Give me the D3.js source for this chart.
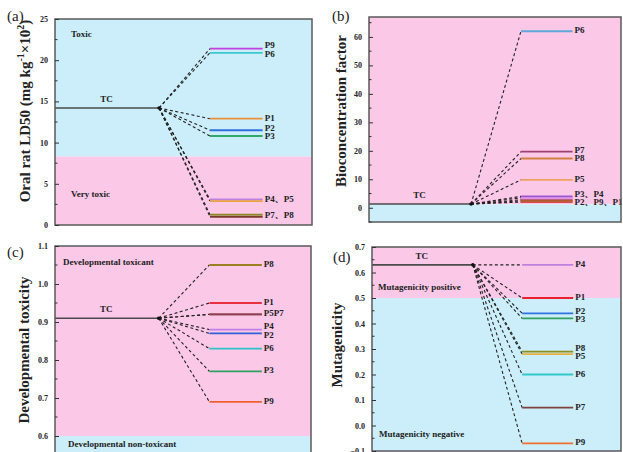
<!DOCTYPE html>
<html>
<head>
<meta charset="utf-8">
<script src="https://cdn.jsdelivr.net/npm/d3@7"></script>
<style>
  body { margin: 0; background: #fff; }
  svg { display: block; }
  text { font-family: "Liberation Serif", "Times New Roman", "Noto Serif CJK SC", "Noto Sans CJK SC", serif; font-weight: bold; fill: #222; }
</style>
</head>
<body>
<svg id="chart" width="623" height="452"></svg>
<script>
// ---- data ----
const products = ["P1", "P2", "P3", "P4", "P5", "P6", "P7", "P8", "P9"];

// (a) oral rat LD50, mg/kg x 10^2
const ld50Tc = 14.2;
const ld50Values = [12.9, 11.5, 10.8, 3.1, 2.9, 20.9, 1.0, 1.25, 21.4];
const ld50Threshold = 8.3;
const ld50Ticks = [0, 5, 10, 15, 20, 25];
const ld50Labels = [["P9"], ["P6"], ["P1"], ["P2"], ["P3"], ["P4", "P5"], ["P7", "P8"]];

// (b) bioconcentration factor
const bcfTc = 1.3;
const bcfValues = [2.0, 2.8, 4.0, 3.5, 9.8, 62.0, 19.7, 17.3, 2.4];
const bcfThreshold = 1.2;
const bcfTicks = [0, 10, 20, 30, 40, 50, 60];
const bcfLabels = [["P6"], ["P7"], ["P8"], ["P5"], ["P3", "P4"], ["P2", "P9", "P1"]];

// (c) developmental toxicity
const devTc = 0.91;
const devValues = [0.95, 0.87, 0.77, 0.88, 0.92, 0.83, 0.92, 1.05, 0.69];
const devThreshold = 0.6;
const devTicks = [0.6, 0.7, 0.8, 0.9, 1.0, 1.1];
const devLabels = [["P8"], ["P1"], ["P5", "P7"], ["P4"], ["P2"], ["P6"], ["P3"], ["P9"]];

// (d) mutagenicity
const mutTc = 0.63;
const mutValues = [0.50, 0.44, 0.42, 0.63, 0.28, 0.20, 0.07, 0.29, -0.07];
const mutThreshold = 0.5;
const mutTicks = [-0.1, 0.0, 0.1, 0.2, 0.3, 0.4, 0.5, 0.6, 0.7];
const mutLabels = [["P4"], ["P1"], ["P2"], ["P3"], ["P8"], ["P5"], ["P6"], ["P7"], ["P9"]];

// ---- styling ----
const BLUE = "#cbeefa";
const PINK = "#fbc8e8";
const colorsA = ["#e8903a", "#2f6fe0", "#2fa86a", "#c080e0", "#e8a040", "#3cc8d0", "#7a3a2a", "#8a8a20", "#c040e0"];
const colorsB = ["#d84848", "#c06080", "#9a58d0", "#d488e8", "#f0a060", "#60a8d8", "#a04070", "#d08040", "#b05a30"];
const colorsC = ["#e83040", "#3060d8", "#30a060", "#c080e8", "#904050", "#30c0c8", "#904050", "#9a8020", "#f06030"];
const colorsD = ["#e82030", "#3070e0", "#30a060", "#c080e0", "#e8b040", "#30c8c8", "#804040", "#8a9020", "#f07030"];

const svg = d3.select("#chart");

const panels = [
  {
    letter: "(a)", letterX: 7, letterY: 21,
    x0: 55, x1: 312, y0: 19, y1: 225,
    domain: [0, 25], ticks: ld50Ticks, minor: 2.5, fmt: d3.format("d"),
    tc: ld50Tc, values: ld50Values, threshold: ld50Threshold, above: BLUE, below: PINK,
    labels: ld50Labels, sep: "、", colors: colorsA,
    titleX: 27, titleY: 111, title: "ld50",
    regions: [{ text: "Toxic", x: 71, y: 35 }, { text: "Very toxic", x: 71, y: 195 }]
  },
  {
    letter: "(b)", letterX: 332, letterY: 21,
    x0: 369, x1: 621, y0: 17, y1: 222,
    domain: [-5, 67], ticks: bcfTicks, minor: 5, fmt: d3.format("d"),
    tc: bcfTc, values: bcfValues, threshold: bcfThreshold, above: PINK, below: BLUE,
    labels: bcfLabels, sep: "、", colors: colorsB,
    titleX: 343, titleY: 111, title: "Bioconcentration factor",
    regions: []
  },
  {
    letter: "(c)", letterX: 7, letterY: 257,
    x0: 55, x1: 311, y0: 246, y1: 455,
    domain: [0.55, 1.1], ticks: devTicks, minor: 0.05, fmt: d3.format(".1f"),
    tc: devTc, values: devValues, threshold: devThreshold, above: PINK, below: BLUE,
    labels: devLabels, sep: "", colors: colorsC,
    titleX: 26, titleY: 350, title: "Developmental toxicity",
    regions: [{ text: "Developmental toxicant", x: 63, y: 263 }, { text: "Developmental non-toxicant", x: 68, y: 445 }]
  },
  {
    letter: "(d)", letterX: 333, letterY: 262,
    x0: 372, x1: 621, y0: 247, y1: 451,
    domain: [-0.1, 0.7], ticks: mutTicks, minor: 0.05, fmt: d3.format(".1f"),
    tc: mutTc, values: mutValues, threshold: mutThreshold, above: PINK, below: BLUE,
    labels: mutLabels, sep: "", colors: colorsD,
    titleX: 339, titleY: 345, title: "Mutagenicity",
    regions: [{ text: "Mutagenicity positive", x: 378, y: 288 }, { text: "Mutagenicity negative", x: 379, y: 435 }]
  }
];

// stage positions along each panel, as fractions of the plot width
const STAGE_TC_END = 0.405, STAGE_P_START = 0.603, STAGE_P_END = 0.808, STAGE_TC_LABEL = 0.2;

panels.forEach(p => {
  const g = svg.append("g");
  const y = d3.scaleLinear().domain(p.domain).range([p.y1, p.y0]);
  const x = d3.scaleLinear().domain([0, 1]).range([p.x0, p.x1]);
  const clipId = "clip" + p.letter.replace(/\W/g, "");

  g.append("clipPath").attr("id", clipId)
    .append("rect").attr("x", p.x0).attr("y", p.y0).attr("width", p.x1 - p.x0).attr("height", p.y1 - p.y0);

  const plot = g.append("g").attr("clip-path", `url(#${clipId})`);

  // background bands split at the threshold
  const ty = y(p.threshold);
  plot.append("rect").attr("x", p.x0).attr("y", p.y0).attr("width", p.x1 - p.x0).attr("height", ty - p.y0).attr("fill", p.above);
  plot.append("rect").attr("x", p.x0).attr("y", ty).attr("width", p.x1 - p.x0).attr("height", p.y1 - ty).attr("fill", p.below);

  // region captions
  p.regions.forEach(r => {
    g.append("text").attr("x", r.x).attr("y", r.y).attr("dominant-baseline", "middle")
      .attr("font-size", 9).text(r.text);
  });

  // parent compound line
  const tcY = y(p.tc);
  plot.append("line").attr("x1", p.x0).attr("x2", x(STAGE_TC_END)).attr("y1", tcY).attr("y2", tcY)
    .attr("stroke", "#4a4a4a").attr("stroke-width", 1.6);
  g.append("text").attr("x", x(STAGE_TC_LABEL)).attr("y", tcY - 6).attr("text-anchor", "middle")
    .attr("font-size", 9).text("TC");

  // dashed connectors to each product
  plot.selectAll("line.link").data(p.values).join("line").attr("class", "link")
    .attr("x1", x(STAGE_TC_END)).attr("y1", tcY)
    .attr("x2", x(STAGE_P_START)).attr("y2", d => y(d))
    .attr("stroke", "#222").attr("stroke-width", 1.1).attr("stroke-dasharray", "3,2.5");

  plot.append("circle").attr("cx", x(STAGE_TC_END)).attr("cy", tcY).attr("r", 1.8).attr("fill", "#111");

  // product levels
  plot.selectAll("line.level").data(p.values).join("line").attr("class", "level")
    .attr("x1", x(STAGE_P_START)).attr("x2", x(STAGE_P_END))
    .attr("y1", d => y(d)).attr("y2", d => y(d))
    .attr("stroke", (d, i) => p.colors[i]).attr("stroke-width", 1.8);

  // product labels, nudged apart where they crowd
  const lab = p.labels.map(group => {
    const vals = group.map(n => p.values[products.indexOf(n)]);
    return { text: group.join(p.sep), y: y(d3.mean(vals)) };
  }).sort((a, b) => a.y - b.y);
  const gap = 8.6;
  for (let iter = 0; iter < 40; iter++) {
    for (let i = 1; i < lab.length; i++) {
      const d = lab[i].y - lab[i - 1].y;
      if (d < gap) {
        const s = (gap - d) / 2;
        lab[i - 1].y -= s; lab[i].y += s;
      }
    }
  }
  g.selectAll("text.plab").data(lab).join("text").attr("class", "plab")
    .attr("x", x(STAGE_P_END) + 2).attr("y", d => d.y).attr("dominant-baseline", "middle")
    .attr("font-size", 9).text(d => d.text);

  // frame
  g.append("rect").attr("x", p.x0).attr("y", p.y0).attr("width", p.x1 - p.x0).attr("height", p.y1 - p.y0)
    .attr("fill", "none").attr("stroke", "#5a5a5a").attr("stroke-width", 1.5);

  // y axis with inward ticks
  const axis = d3.axisLeft(y).tickValues(p.ticks).tickFormat(p.fmt).tickSizeInner(-4).tickSizeOuter(0).tickPadding(7);
  const ax = g.append("g").attr("transform", `translate(${p.x0},0)`).call(axis);
  ax.select(".domain").remove();
  ax.selectAll(".tick line").attr("stroke", "#333");
  ax.selectAll(".tick text").attr("font-size", 8).attr("fill", "#333")
    .style("font-family", "'Liberation Serif','Times New Roman',serif").style("font-weight", "bold");
  const minorVals = d3.range(p.domain[0], p.domain[1] + 1e-9, p.minor)
    .map(v => Math.round(v / p.minor) * p.minor)
    .filter(v => v >= p.domain[0] && v <= p.domain[1] && !p.ticks.some(t => Math.abs(t - v) < 1e-9));
  ax.selectAll("line.minor").data(minorVals).join("line").attr("class", "minor")
    .attr("x1", 0).attr("x2", 2.5).attr("y1", d => y(d)).attr("y2", d => y(d)).attr("stroke", "#333");

  // axis title
  const t = g.append("text").attr("transform", `translate(${p.titleX},${p.titleY}) rotate(-90)`)
    .attr("text-anchor", "middle").attr("dominant-baseline", "middle").attr("font-size", 15);
  if (p.title === "ld50") {
    t.append("tspan").text("Oral rat LD50 (mg kg");
    t.append("tspan").attr("baseline-shift", "super").attr("font-size", 10).text("-1");
    t.append("tspan").text("×10");
    t.append("tspan").attr("baseline-shift", "super").attr("font-size", 10).text("2");
    t.append("tspan").text(")");
  } else {
    t.text(p.title);
  }

  // panel letter
  svg.append("text").attr("x", p.letterX).attr("y", p.letterY).attr("font-size", 15)
    .style("font-weight", "normal").text(p.letter);
});
</script>
</body>
</html>
